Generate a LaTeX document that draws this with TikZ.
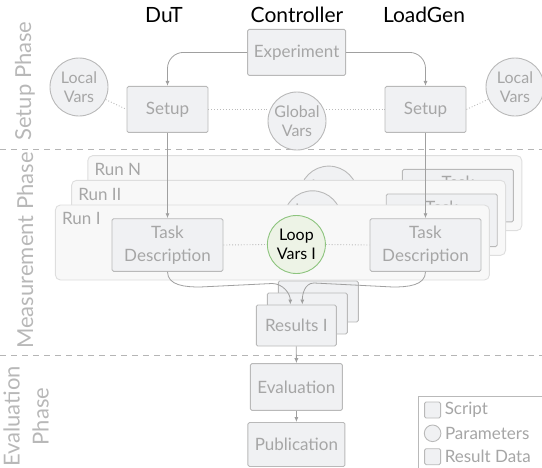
\documentclass[tikz,border=0pt]{standalone}
\usepackage{fontspec}
\setmainfont{Lato}
\usetikzlibrary{arrows.meta}

\definecolor{boxfill}{HTML}{F0F1F3}
\definecolor{boxdraw}{HTML}{B9B9B9}
\definecolor{boxtext}{HTML}{A6A6A6}
\definecolor{runfill}{HTML}{F8F8F8}
\definecolor{rundraw}{HTML}{DEDEDE}
\definecolor{loopfill}{HTML}{EDF3E6}
\definecolor{loopdraw}{HTML}{8DC47E}
\definecolor{phasegray}{HTML}{B8B8B8}
\definecolor{arrowgray}{HTML}{A0A0A0}
\definecolor{dotgray}{HTML}{BBBBBB}
\definecolor{divgray}{HTML}{B5B5B5}

\newcommand{\boxfont}{\fontsize{17}{23}\selectfont}
\newcommand{\circlefont}{\fontsize{16}{19}\selectfont}
\newcommand{\headfont}{\fontsize{21}{25}\selectfont}
\newcommand{\phasefont}{\fontsize{22}{29}\selectfont}

\begin{document}
\begin{tikzpicture}[x=1pt, y=-1pt,
    scriptbox/.style={draw=boxdraw, line width=0.9pt, fill=boxfill, text=boxtext, rounded corners=1.5pt, align=center, font=\boxfont, inner sep=2pt},
    resultbox/.style={scriptbox},
    parambox/.style={circle, draw=boxdraw, line width=0.9pt, fill=boxfill, text=boxtext, align=center, font=\circlefont, minimum size=58pt, inner sep=0pt},
    loopbox/.style={parambox, draw=loopdraw, fill=loopfill, text=black},
    runpanel/.style={draw=rundraw, line width=0.9pt, fill=runfill, rounded corners=5pt, minimum width=434pt, minimum height=75pt},
    runlabel/.style={text=boxtext, font=\boxfont, anchor=north west, inner sep=0pt},
    phase/.style={text=phasegray, font=\phasefont, rotate=90, align=center},
    header/.style={font=\headfont},
    flow/.style={draw=arrowgray, line width=0.8pt, -{Latex[length=5pt,width=4pt]}},
    link/.style={draw=dotgray, line width=0.9pt, dotted},
    divider/.style={draw=divgray, line width=0.9pt, dash pattern=on 6pt off 5pt}
]
    \useasboundingbox (0,0) rectangle (542,467);

    % --- Phases ---
    \draw[divider] (0,149.3) -- (542,149.3);
    \draw[divider] (0,355) -- (542,355);
    \node[phase] (setupphase) at (25,81) {Setup Phase};
    \node[phase] (measphase) at (25,250.5) {Measurement Phase};
    \node[phase] (evalphase) at (26,416.5) {Evaluation\\Phase};

    % --- Columns ---
    \node[header] (dut) at (164,15) {DuT};
    \node[header] (ctrl) at (297,15) {Controller};
    \node[header] (lgen) at (424,15) {LoadGen};

    % --- Setup ---
    \node[scriptbox, minimum width=98pt, minimum height=46pt] (exp) at (296.6,52.4) {Experiment};
    \node[scriptbox, minimum width=81pt, minimum height=46pt] (setupL) at (167.5,109.4) {Setup};
    \node[scriptbox, minimum width=81pt, minimum height=46pt] (setupR) at (425.5,109.4) {Setup};
    \node[parambox] (global) at (297,121) {Global\\Vars};
    \node[parambox] (localL) at (79,87) {Local\\Vars};
    \node[parambox] (localR) at (515,87) {Local\\Vars};

    \draw[link] (localL) -- (setupL.west);
    \draw[link] (setupL.east) -- (setupL.east -| global.west);
    \draw[link] (setupR.west -| global.east) -- (setupR.west);
    \draw[link] (setupR.east) -- (localR);

    % --- Runs (back to front) ---
    \foreach \i/\rn in {2/N, 1/II} {
        \begin{scope}[shift={(16.2*\i,-24.7*\i)}]
            \node[runpanel] (run\rn) at (272.4,242.5) {};
            \node[runlabel] (runlabel\rn) at ([xshift=7pt,yshift=-8pt]run\rn.north west) {Run \rn};
            \node[parambox] (loop\rn) at (296.4,244.5) {Loop\\Vars \rn};
            \node[scriptbox, minimum width=111pt, minimum height=52.6pt] (task\rn) at (425.5,245) {Task\\Description};
        \end{scope}
    }
    \node[runpanel] (runI) at (272.4,242.5) {};
    \node[runlabel] (runlabelI) at ([xshift=7pt,yshift=-8pt]runI.north west) {Run I};
    \node[scriptbox, minimum width=111pt, minimum height=52.6pt] (taskL) at (167.5,245) {Task\\Description};
    \node[scriptbox, minimum width=111pt, minimum height=52.6pt] (taskR) at (425.5,245) {Task\\Description};
    \node[loopbox] (loop) at (296.4,244.5) {Loop\\Vars I};
    \draw[link] (taskL.east) -- (loop.west);
    \draw[link] (loop.east) -- (taskR.west);

    % --- Results ---
    \node[resultbox, minimum width=80pt, minimum height=41pt] (resN) at (318.3,301.5) {};
    \node[resultbox, minimum width=80pt, minimum height=41pt] (resII) at (307.3,313.5) {};
    \node[resultbox, minimum width=80pt, minimum height=41pt] (resI) at (296.3,325.5) {Results I};

    % --- Evaluation ---
    \node[scriptbox, minimum width=92pt, minimum height=46.7pt] (eval) at (296.4,387) {Evaluation};
    \node[scriptbox, minimum width=97pt, minimum height=44pt] (pub) at (296.4,444.5) {Publication};

    % --- Arrows ---
    \draw[flow, rounded corners=16pt] (exp.west) -| (setupL.north);
    \draw[flow, rounded corners=16pt] (exp.east) -| (setupR.north);
    \draw[flow] (setupL.south) -- (taskL.north);
    \draw[flow] (setupR.south) -- (taskR.north);
    \draw[flow] (taskL.south) to[out=-90, in=180] (200,287) -- (272,283.5)
        to[out=0, in=90] ([xshift=-6pt]resI.north);
    \draw[flow] (taskR.south) to[out=-90, in=0] (393,287) -- (314,283)
        to[out=180, in=90] ([xshift=6pt]resI.north);
    \draw[flow] (resI.south) -- (eval.north);
    \draw[flow] (eval.south) -- (pub.north);

    % --- Legend ---
    \node[draw=boxdraw, line width=0.9pt, fill=white, minimum width=124pt, minimum height=72pt, anchor=north west] (legend) at (418,396.4) {};
    \node[scriptbox, minimum size=16pt, inner sep=0pt] (keyscript) at (432.6,410) {};
    \node[parambox, minimum size=16.6pt] (keyparam) at (432.6,433.3) {};
    \node[resultbox, minimum size=16pt, inner sep=0pt] (keyresult) at (432.6,456.7) {};
    \node[text=boxtext, font=\boxfont, anchor=west, inner sep=0pt] (keyscripttext) at ([xshift=3.5pt]keyscript.east) {Script};
    \node[text=boxtext, font=\boxfont, anchor=west, inner sep=0pt] (keyparamtext) at ([xshift=3.5pt]keyparam.east) {Parameters};
    \node[text=boxtext, font=\boxfont, anchor=west, inner sep=0pt] (keyresulttext) at ([xshift=3.5pt]keyresult.east) {Result Data};
\end{tikzpicture}
\end{document}
